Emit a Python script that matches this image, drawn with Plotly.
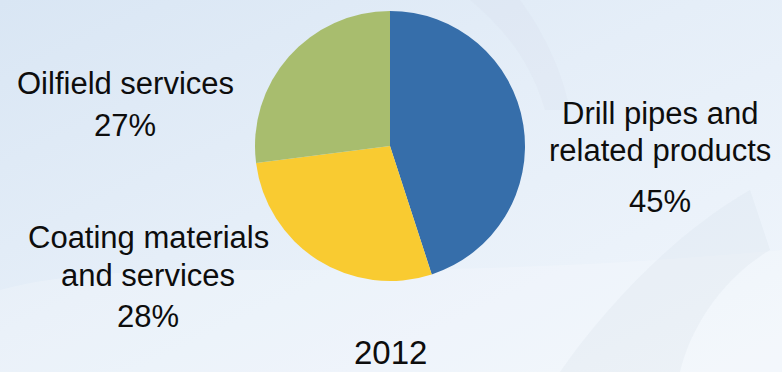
import base64
import plotly.graph_objects as go

# Revenue split by business segment, 2012
segments = ["Drill pipes and related products", "Coating materials and services", "Oilfield services"]
shares = [45, 28, 27]
colors = ["#366EAA", "#F9CB31", "#A8BD6E"]
label_lines = [["Drill pipes and", "related products"],
               ["Coating materials", "and services"],
               ["Oilfield services"]]
year = "2012"

W, H = 782, 372

# soft blue backdrop with faint curved bands
bg_svg = f"""<svg xmlns='http://www.w3.org/2000/svg' width='{W}' height='{H}' viewBox='0 0 {W} {H}'>
<defs>
<linearGradient id='g' x1='0' y1='0' x2='1' y2='1'>
<stop offset='0' stop-color='#d9e6f4'/>
<stop offset='0.45' stop-color='#e5eef8'/>
<stop offset='1' stop-color='#f1f6fc'/>
</linearGradient>
</defs>
<rect width='{W}' height='{H}' fill='url(#g)'/>
<path d='M0,290 C150,250 350,290 782,250 L782,372 L0,372 Z' fill='#ffffff' opacity='0.2'/>
<path d='M560,372 C610,300 680,230 750,190 L770,250 C720,280 690,330 680,372 Z' fill='#cfd9e6' opacity='0.18'/>
<path d='M470,0 C505,30 530,60 545,110 L570,110 C560,60 535,20 520,0 Z' fill='#cfd9e6' opacity='0.15'/>
</svg>"""
bg_uri = "data:image/svg+xml;base64," + base64.b64encode(bg_svg.encode()).decode()

cx, cy, r = 390, 146, 135  # pie centre and radius in pixels

fig = go.Figure(go.Pie(
    labels=segments,
    values=shares,
    marker=dict(colors=colors, line=dict(width=0)),
    sort=False,
    direction="clockwise",
    rotation=0,
    textinfo="none",
    hoverinfo="label+percent",
    showlegend=False,
    domain=dict(x=[(cx - r) / W, (cx + r) / W],
                y=[(H - cy - r) / H, (H - cy + r) / H]),
))

FONT = "Liberation Sans, Arial, sans-serif"
FS = 31


def add_line(text, x, baseline, size=FS):
    fig.add_annotation(
        text=text, x=x / W, y=1 - (baseline - 0.36 * size) / H,
        xref="paper", yref="paper", xanchor="center", yanchor="middle",
        showarrow=False, borderpad=0,
        font=dict(family=FONT, size=size, color="#0d0d0d"),
    )


# label blocks: (x centre, baselines of name lines, baseline of percent line)
placements = [
    (660, [125, 162], 213),
    (148, [249, 287], 328),
    (125, [95], 137),
]
for lines, share, (x, bases, pbase) in zip(label_lines, shares, placements):
    for line, b in zip(lines, bases):
        add_line(line, x, b)
    add_line(f"{share}%", x, pbase)

add_line(year, 390, 364, size=33)

fig.update_layout(
    width=W, height=H,
    margin=dict(l=0, r=0, t=0, b=0),
    paper_bgcolor="#e6eef8",
    plot_bgcolor="rgba(0,0,0,0)",
    images=[dict(source=bg_uri, xref="paper", yref="paper", x=0, y=1,
                 sizex=1, sizey=1, xanchor="left", yanchor="top",
                 sizing="stretch", layer="below")],
)

fig.write_html("out.html")
